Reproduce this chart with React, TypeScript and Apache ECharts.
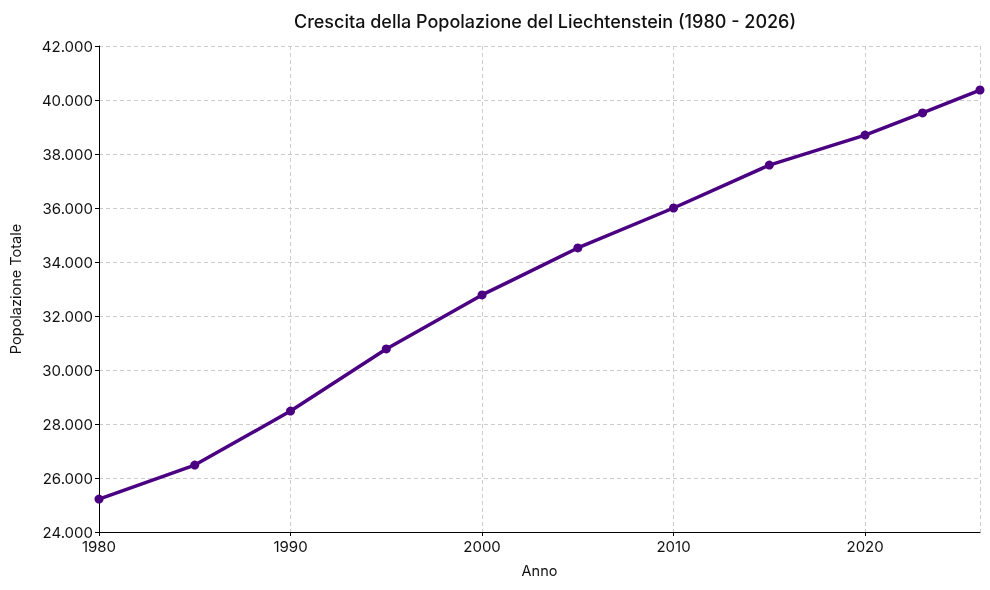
import { useEffect, useRef } from "react"
import * as echarts from "echarts"

const years = [1980, 1985, 1990, 1995, 2000, 2005, 2010, 2015, 2020, 2023, 2026]
const population = [25220, 26480, 28480, 30780, 32780, 34520, 36000, 37590, 38700, 39520, 40370]

const title = "Crescita della Popolazione del Liechtenstein (1980 - 2026)"
const xName = "Anno"
const yName = "Popolazione Totale"

const fontFamily = "Inter, 'Noto Sans', sans-serif"

function formatThousands(v: number) {
  return String(Math.round(v)).replace(/\B(?=(\d{3})+(?!\d))/g, ".")
}

export default function App() {
  const chartRef = useRef<HTMLDivElement>(null)

  useEffect(() => {
    if (!chartRef.current) return
    const chart = echarts.init(chartRef.current, null, { renderer: "svg" })

    const gridLine = { show: true, lineStyle: { color: "#cccccc", type: [4, 3] as any, width: 1 } }

    chart.setOption({
      animation: false,
      textStyle: { fontFamily },
      title: {
        text: title,
        left: 540,
        textAlign: "center",
        top: 7,
        textStyle: { fontFamily, fontSize: 18, fontWeight: 500, color: "#111" },
      },
      grid: { left: 99, right: 10, top: 46, bottom: 58, containLabel: false, outerBoundsMode: "none" },
      xAxis: {
        type: "value",
        min: 1980,
        max: 2026,
        interval: 10,
        name: xName,
        nameLocation: "middle",
        nameGap: 31,
        nameTextStyle: { fontFamily, fontSize: 14.5, color: "#111" },
        axisLine: { show: true, onZero: false, lineStyle: { color: "#000", width: 1 } },
        axisTick: { show: true, length: 4, lineStyle: { color: "#000" } },
        axisLabel: { fontFamily, fontSize: 15, color: "#111", margin: 7, formatter: (v: number) => String(v), showMaxLabel: false },
        splitLine: gridLine,
      },
      yAxis: {
        type: "value",
        min: 24000,
        max: 42000,
        interval: 2000,
        name: yName,
        nameLocation: "middle",
        nameGap: 76,
        nameTextStyle: { fontFamily, fontSize: 14.5, color: "#111" },
        axisLine: { show: true, lineStyle: { color: "#000", width: 1 } },
        axisTick: { show: true, length: 4, lineStyle: { color: "#000" } },
        axisLabel: { fontFamily, fontSize: 15, color: "#111", margin: 6, formatter: formatThousands },
        splitLine: gridLine,
      },
      series: [
        {
          type: "line",
          data: years.map((y, i) => [y, population[i]]),
          lineStyle: { color: "#4b0082", width: 3.5 },
          itemStyle: { color: "#4b0082" },
          symbol: "circle",
          symbolSize: 9,
          clip: false,
        },
      ],
    })

    return () => {
      chart.dispose()
    }
  }, [])

  return <div ref={chartRef} style={{ width: 990, height: 590, position: "fixed", left: 0, top: 0 }} />
}
